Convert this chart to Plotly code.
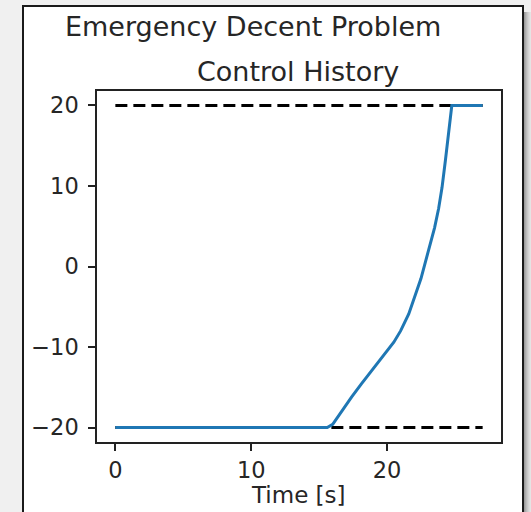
import plotly.graph_objects as go

# ---- data ----
time_s = [0.0, 15.6, 16.0, 16.4, 16.8, 17.4, 18.1, 18.7, 19.3, 19.9, 20.5, 21.0, 21.6,
          22.5, 23.1, 23.5, 23.8, 24.05, 24.3, 24.77, 27.04]
control = [-20.0, -20.0, -19.6, -18.6, -17.6, -16.2, -14.6, -13.3, -12.0, -10.8, -9.4,
           -8.0, -5.9, -1.5, 2.3, 4.8, 7.2, 9.8, 13.2, 20.0, 20.0]
bound_t = [0.0, 27.04]
upper_bound = [20.0, 20.0]
lower_bound = [-20.0, -20.0]
x_ticks = [0, 10, 20]
x_tick_text = ["0", "10", "20"]
y_ticks = [-20, -10, 0, 10, 20]
y_tick_text = ["\u221220", "\u221210", "0", "10", "20"]
suptitle = "Emergency Decent Problem"
ax_title = "Control History"
x_label = "Time [s]"

W, H = 531, 512
L, R, T, B = 97, 30, 91, 70
PW, PH = W - L - R, H - T - B
FONT = "DejaVu Sans"
TXT = "#262626"

def px_x(x):
    return (x - L) / PW

def px_y(y):
    return (H - B - y) / PH

fig = go.Figure()
for yb in (upper_bound, lower_bound):
    fig.add_trace(go.Scatter(x=bound_t, y=yb, mode="lines",
                             line=dict(color="black", width=3, dash="12px,6px"),
                             hoverinfo="skip", showlegend=False))
fig.add_trace(go.Scatter(x=time_s, y=control, mode="lines",
                         line=dict(color="#1f77b4", width=3),
                         showlegend=False))

shapes = []
# shadow on the right of the card
shadow_cols = ["#8a8a8a", "#9c9c9c", "#acacac", "#bbbbbb", "#c8c8c8", "#d3d3d3", "#dcdcdc", "#e4e4e4"]
for i, c in enumerate(shadow_cols):
    shapes.append(dict(type="rect", xref="paper", yref="paper", xsizemode="pixel", ysizemode="pixel",
                       xanchor=0, yanchor=1, x0=523 - L + i, x1=524 - L + i,
                       y0=T - 12, y1=T - 530, fillcolor=c, line=dict(width=0), layer="below"))
# white card with dark border
shapes.append(dict(type="rect", xref="paper", yref="paper", xsizemode="pixel", ysizemode="pixel",
                   xanchor=0, yanchor=1, x0=23 - L, x1=523 - L, y0=T - 6, y1=T - 530,
                   fillcolor="white", line=dict(color="#1a1a1a", width=2), layer="below"))

annotations = [
    dict(text=suptitle, x=px_x(253), y=px_y(27), xref="paper", yref="paper",
         xanchor="center", yanchor="middle", showarrow=False,
         font=dict(family=FONT, size=27, color=TXT)),
    dict(text=ax_title, x=px_x(298), y=px_y(71), xref="paper", yref="paper",
         xanchor="center", yanchor="middle", showarrow=False,
         font=dict(family=FONT, size=27, color=TXT)),
    dict(text=x_label, x=px_x(298), y=px_y(495), xref="paper", yref="paper",
         xanchor="center", yanchor="middle", showarrow=False,
         font=dict(family=FONT, size=23, color=TXT)),
]

axis_common = dict(showgrid=False, zeroline=False, showline=True, mirror=True,
                   linecolor="#222222", linewidth=1.5, ticks="outside", ticklen=7,
                   tickwidth=1.5, tickcolor="#222222",
                   tickfont=dict(family=FONT, size=22.5, color=TXT))

fig.update_layout(
    width=W, height=H,
    margin=dict(l=L, r=R, t=T, b=B, autoexpand=False),
    paper_bgcolor="#f0f0f0", plot_bgcolor="white",
    xaxis=dict(range=[-1.352, 28.392], tickvals=x_ticks, ticktext=x_tick_text,
               ticklabelstandoff=0, **axis_common),
    yaxis=dict(range=[-21.8, 21.8], tickvals=y_ticks, ticktext=y_tick_text,
               ticklabelstandoff=5, **axis_common),
    shapes=shapes, annotations=annotations, showlegend=False,
)
fig.write_html("out.html")
